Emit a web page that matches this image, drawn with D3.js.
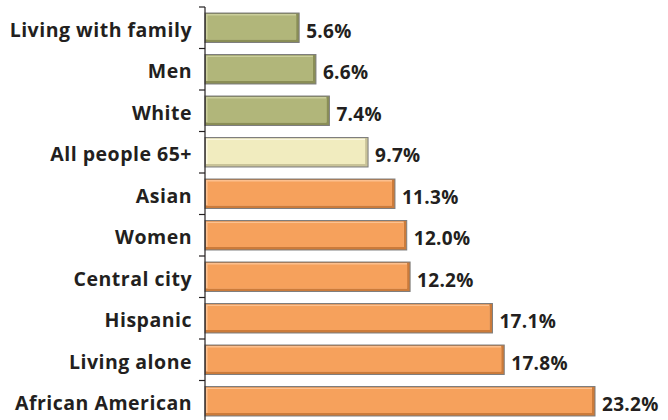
<!DOCTYPE html>
<html>
<head>
<meta charset="utf-8">
<script src="https://cdn.jsdelivr.net/npm/d3@7"></script>
<style>
  body { margin: 0; background: #fff; }
  svg text { font-family: "Open Sans", "DejaVu Sans", sans-serif; font-weight: bold; fill: #231f20; }
</style>
</head>
<body>
<div id="app"></div>
<script>
// Share of people 65+ in poverty, by group.
var categories = ["Living with family", "Men", "White", "All people 65+", "Asian",
	"Women", "Central city", "Hispanic", "Living alone", "African American"];
var values = [5.6, 6.6, 7.4, 9.7, 11.3, 12.0, 12.2, 17.1, 17.8, 23.2];
var groups = ["low", "low", "low", "all", "high", "high", "high", "high", "high", "high"];

var width = 668, height = 420;
var xAxis0 = 205;

// base, highlight, shadow
var palette = {
	"low":  ["#b1b67a", "#cbcf9c", "#8a8e56"],
	"all":  ["#f1ecbf", "#fbf8e0", "#c9c398"],
	"high": ["#f6a15c", "#fcc190", "#cc7b3a"]
};

var svg = d3.select("#app").append("svg")
	.attr("width", width).attr("height", height);

var x = d3.scaleLinear().domain([0, 23.2]).range([xAxis0, 595]);
var y = d3.scaleBand().domain(categories)
	.range([7, 422]).paddingInner(0.29).paddingOuter(0.145);

var bar = svg.append("g").selectAll("g")
	.data(categories)
	.join("g")
	.attr("transform", function (d) {return "translate(" + xAxis0 + "," + y(d) + ")";});

var bw = function (d, i) {return x(values[i]) - xAxis0;};
var bh = y.bandwidth();

// bevelled bars: shadow, then highlight, then face
bar.append("rect")
	.attr("width", bw).attr("height", bh)
	.attr("fill", function (d, i) {return palette[groups[i]][2];})
	.attr("stroke", "#7d7d7d").attr("stroke-width", 1);
bar.append("rect")
	.attr("x", 1).attr("y", 1)
	.attr("width", function (d, i) {return bw(d, i) - 4;}).attr("height", bh - 4)
	.attr("fill", function (d, i) {return palette[groups[i]][1];});
bar.append("rect")
	.attr("x", 2.5).attr("y", 2.5)
	.attr("width", function (d, i) {return bw(d, i) - 5.5;}).attr("height", bh - 5.5)
	.attr("fill", function (d, i) {return palette[groups[i]][0];});

// value labels
bar.append("text")
	.attr("x", function (d, i) {return bw(d, i) + 7;})
	.attr("y", bh / 2 + 10)
	.style("font-size", "19px")
	.style("letter-spacing", "0.3px")
	.text(function (d, i) {return values[i].toFixed(1) + "%";});

// category labels
svg.append("g").selectAll("text")
	.data(categories)
	.join("text")
	.attr("x", 192)
	.attr("y", function (d) {return y(d) + bh / 2 + 9;})
	.attr("text-anchor", "end")
	.style("font-size", "19.5px")
	.style("letter-spacing", "0.5px")
	.text(function (d) {return d;});

// axis with ticks on band boundaries
var axis = svg.append("g").attr("stroke", "#231f20").attr("stroke-width", 1.2);
var r = y.range();
axis.append("line")
	.attr("x1", xAxis0).attr("x2", xAxis0)
	.attr("y1", r[0]).attr("y2", r[1]);
var edges = categories.map(function (d) {return y(d) - y.step() * y.paddingInner() / 2;});
edges[0] = r[0];
axis.selectAll("line.tick")
	.data(edges)
	.join("line")
	.attr("class", "tick")
	.attr("x1", xAxis0 - 6).attr("x2", xAxis0)
	.attr("y1", function (d) {return d;}).attr("y2", function (d) {return d;});
</script>
</body>
</html>
